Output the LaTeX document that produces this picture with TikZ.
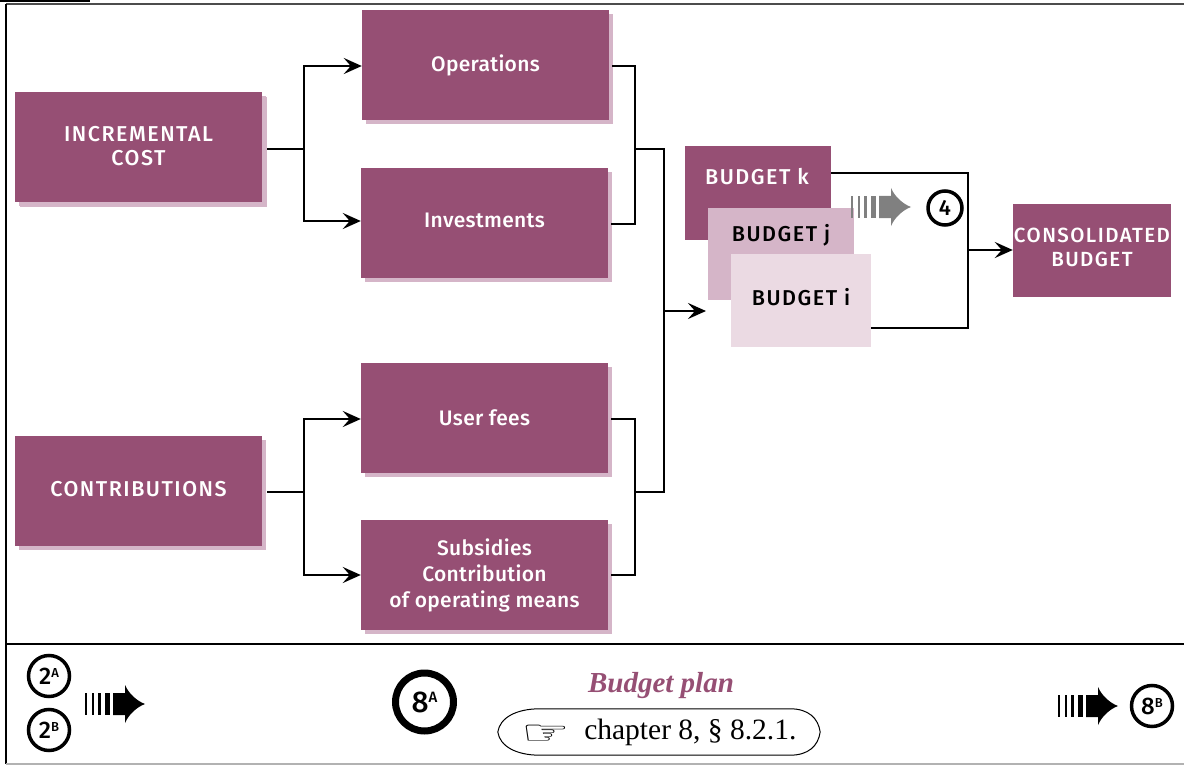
\documentclass[tikz,border=0pt]{standalone}
\usepackage{fontspec}
\setmainfont{Liberation Serif}
\newfontfamily\boxfont[LetterSpace=1.5,Ligatures=NoCommon]{Fira Sans Medium}
\newfontfamily\capsfont[LetterSpace=7,Ligatures=NoCommon]{Fira Sans Medium}
\newfontfamily\symbfont{DejaVu Sans}
\usetikzlibrary{shadows,arrows.meta}
\definecolor{mauve}{HTML}{964F74}
\definecolor{mauvemid}{HTML}{D5B5C8}
\definecolor{mauvepale}{HTML}{EBDAE3}
\newcommand{\ringtext}[4]{#1\raisebox{#3}{\fontsize{#4}{#4}\selectfont #2}}
\tikzset{
	plate/.style={inner sep=0pt,align=center,font=\fontsize{21}{26}\selectfont\boxfont},
	caps/.style={font=\fontsize{21.5}{26}\selectfont\capsfont},
	box/.style={plate,fill=mauve,text=white,minimum width=247pt,minimum height=110pt,
		drop shadow={shadow xshift=4pt,shadow yshift=-4pt,fill=mauvemid,opacity=1}},
	link/.style={line width=2.8pt},
	arrow/.style={line width=2.8pt,-{Stealth[length=18pt,width=16pt,inset=7pt]}},
	ring/.style={circle,draw,line width=3.5pt,minimum size=41pt,inner sep=0pt,font=\fontsize{24}{26}\selectfont\boxfont},
	stripes/.pic={
		\foreach \a/\b in {0/1.5,7/9,13/16,20/25}
		\fill[pic actions] (\a,-11) rectangle (\b,11);
		\fill[pic actions] (28,-11)--(40,-11)--(40,-19) .. controls (44,-10) and (52,-3) .. (60,0)
			.. controls (52,3) and (44,10) .. (40,19)--(40,11)--(28,11)--cycle;
	}
}
\begin{document}
\begin{tikzpicture}[x=1pt,y=-1pt,line join=miter]
	\useasboundingbox (0,0) rectangle (1184,765);
	% frame
	\fill (0,0) rectangle (90,2);
	\draw[line width=1.5pt,black!70] (6,4)--(1184,4);
	\draw[line width=1.5pt] (6,4)--(6,764);
	\draw[line width=1.5pt] (6,644)--(1184,644);
	\draw[line width=1.5pt,black!30] (6,764)--(1184,764);
	% left boxes
	\node[box,caps,drop shadow={shadow xshift=5pt,shadow yshift=-5pt,fill=mauvemid,opacity=1}] (inc) at (138.5,147) {\raisebox{2pt}{\shortstack{INCREMENTAL\\[5pt]COST}}};
	\node[box,caps] (contrib) at (138.5,491) {\raisebox{4pt}{CONTRIBUTIONS}};
	\node[box] (ops) at (485.5,65) {Operations};
	\node[box] (inv) at (484.5,223) {\raisebox{5pt}{Investments}};
	\node[box] (fees) at (484.5,418) {User fees};
	\node[box] (subs) at (484.5,575) {Subsidies\\Contribution\\of operating means};
	% budgets
	\node[plate,fill=mauve,minimum width=146pt,minimum height=94pt] (budgetk) at (758,193) {};
	\node[plate,fill=mauvemid,minimum width=146pt,minimum height=92pt] (budgetj) at (781,254) {};
	\node[plate,fill=mauvepale,minimum width=140pt,minimum height=93pt] (budgeti) at (801,300.5) {};
	\node[plate,caps,text=white] (labelk) at (757,177) {BUDGET k};
	\node[plate,caps] (labelj) at (781,235) {BUDGET j};
	\node[plate,caps] (labeli) at (801,297) {BUDGET i};
	\node[plate,fill=mauve,text=white,minimum width=158pt,minimum height=93pt,font=\fontsize{20.5}{25}\selectfont\capsfont] (total) at (1092,250.5) {\raisebox{6pt}{\shortstack{CONSOLIDATED\\[6pt]BUDGET}}};
	% connectors
	\coordinate (splitinc) at (304,149);
	\coordinate (splitcon) at (304,492);
	\coordinate (mergeinc) at (635,149);
	\coordinate (mergecon) at (635,492);
	\coordinate (bustop) at (664,149);
	\coordinate (busbot) at (664,492);
	\coordinate (busout) at (664,311);
	\coordinate (budgetin) at (706,311);
	\coordinate (rightbus) at (968,250);
	\coordinate (rightk) at (968,173);
	\coordinate (righti) at (968,328);
	\draw[link,shorten <=5pt] (inc.east |- splitinc)--(splitinc);
	\draw[link,shorten <=5pt] (contrib.east |- splitcon)--(splitcon);
	\draw[arrow] (splitinc) |- ([yshift=-1pt]ops.west);
	\draw[arrow] (splitinc) |- ([yshift=2pt]inv.west);
	\draw[arrow] (splitcon) |- ([yshift=-1pt]fees.west);
	\draw[arrow] (splitcon) |- (subs.west);
	\draw[link,shorten <=3pt] ([yshift=-1pt]ops.east) -| (mergeinc);
	\draw[link,shorten <=3pt] ([yshift=-1pt]inv.east) -| (mergeinc);
	\draw[link,shorten <=3pt] ([yshift=-1pt]fees.east) -| (mergecon);
	\draw[link,shorten <=3pt] (subs.east) -| (mergecon);
	\draw[link] (mergeinc)--(bustop)--(busbot)--(mergecon);
	\draw[arrow] (busout)--(budgetin);
	\draw[link] (budgetk.east |- rightk)--(rightk)--(righti)--(budgeti.east |- righti);
	\draw[arrow] (rightbus)--(total.west |- rightbus);
	\pic[fill=black!50] at (851,207) {stripes};
	\node[ring,minimum size=34pt,font=\fontsize{22}{24}\selectfont\boxfont] (ringd) at (945,208) {4};
	% footer
	\node[ring] (ringa) at (49,676) {\ringtext{2}{A}{7pt}{13}};
	\node[ring] (ringb) at (49,730) {\ringtext{2}{B}{7pt}{13}};
	\pic at (85,704) {stripes};
	\node[ring,line width=7pt,minimum size=58pt,font=\fontsize{30}{32}\selectfont\boxfont] (ringc) at (424.5,702) {\ringtext{8}{A}{10pt}{15}};
	\node[inner sep=0pt,text=mauve,font=\fontsize{29}{30}\selectfont\bfseries\itshape] (title) at (661,686) {Budget plan};
	\node[inner sep=0pt,minimum width=322pt,minimum height=46pt,font=\fontsize{29.5}{30}\selectfont] (ref) at (659,732) {\raisebox{-5pt}{\symbfont\scalebox{1.6}[1]{\fontsize{34}{30}\selectfont ☞}}\hspace{14pt}chapter 8, § 8.2.1.};
	\draw[line width=1pt] (ref.west) .. controls +(2,-14) and ([xshift=18pt]ref.north west) .. ([xshift=42pt]ref.north west)
		-- ([xshift=-30pt]ref.north east) .. controls ([xshift=-12pt]ref.north east) and +(-2,-14) .. (ref.east)
		.. controls +(-2,14) and ([xshift=-12pt]ref.south east) .. ([xshift=-30pt]ref.south east)
		-- ([xshift=42pt]ref.south west) .. controls ([xshift=18pt]ref.south west) and +(2,14) .. (ref.west);
	\pic at (1058,706) {stripes};
	\node[ring,minimum size=41pt] (ringe) at (1152,706) {\ringtext{8}{B}{7pt}{13}};
\end{tikzpicture}
\end{document}
